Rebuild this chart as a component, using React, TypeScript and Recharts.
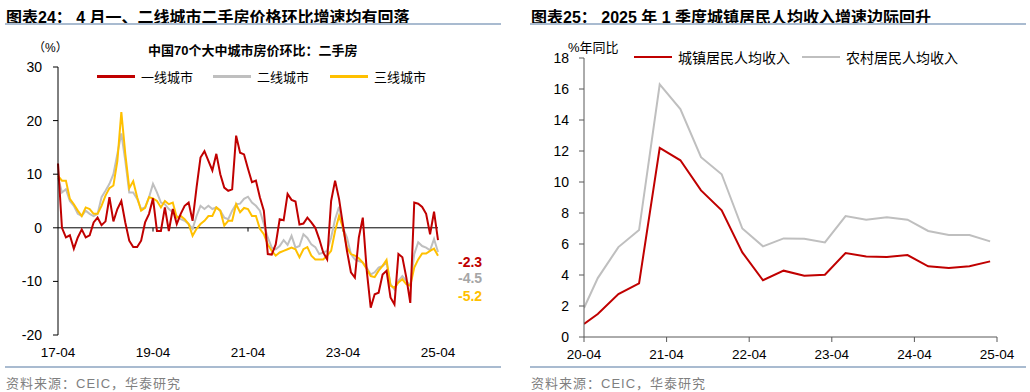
import { LabelList, Line, LineChart, ReferenceLine, XAxis, YAxis } from "recharts";

// 图表24：70城二手房价格环比（折年，%），2017-04 起逐月
const tier1 = [
  12, 0, -1.8, -1.4, -3.9, -1.8, -0.3, -1.8, -1.4, 1.0, 1.9, 0.5, 1.2, 5.7, 1.2, 3.5, 5.0, 1.0, -2.4, -3.6,
  -3.6, -2.4, 1.0, 2.6, 5.5, -0.6, -0.6, 3.8, -0.6, 3.5, 0.7, 2.6, 4.1, 4.7, 1.3, 7.5, 13.1, 14.3, 12.5, 10.7,
  13.8, 10.0, 7.5, 6.9, 7.2, 17.2, 14.0, 13.7, 11.0, 8.5, 8.8, 5.7, 3.2, -4.9, -5.0, -3.1, 1.6, 1.4, 6.3, 5.2,
  4.9, 0.6, 0.8, 1.9, 1.0, 0.0, -2.1, -4.6, -5.9, 5.0, 8.8, 5.4, 0.5, -4.3, -8.3, -9.3, -1.8, 1.9, -8.0, -14.9,
  -12.4, -12.1, -8.7, -8.0, -13.0, -14.3, -4.9, -5.5, -9.3, -14.0, 4.7, 4.5, 3.9, 2.6, -1.2, 3.0, -2.3,
];
const tier2 = [
  9.4, 6.6, 7.2, 5.0, 4.1, 2.6, 2.2, 3.2, 2.6, 2.2, 2.6, 5.7, 6.9, 8.2, 10.0, 13.8, 17.6, 12.5, 6.6, 6.6,
  5.4, 3.5, 3.8, 5.7, 8.2, 6.6, 4.7, 4.4, 3.5, 2.9, 2.2, 1.6, 1.3, 0.7, -0.2, 2.2, 4.1, 3.5, 4.1, 3.5,
  3.8, 3.2, 1.9, 1.6, 3.2, 4.4, 4.5, 5.4, 5.8, 4.7, 4.1, 3.2, 0.7, -1.8, -3.7, -4.0, -3.4, -2.3, -3.2, -1.5,
  -3.7, -3.4, -1.2, -1.9, -3.1, -3.6, -4.9, -4.6, -4.3, -1.8, 1.6, 3.9, 0, -1.8, -4.9, -5.9, -6.2, -6.5, -7.4, -8.7,
  -8.3, -7.4, -7.1, -6.5, -10.5, -11.5, -9.9, -9.0, -9.9, -10.8, -4.9, -2.7, -3.4, -3.7, -4.2, -2.1, -4.5,
];
const tier3 = [
  9.7, 8.8, 8.8, 5.4, 4.4, 3.2, 2.2, 3.8, 3.5, 2.6, 2.6, 4.1, 6.0, 7.4, 7.9, 12.5, 21.6, 13.8, 7.4, 8.7,
  5.7, 3.2, 3.7, 5.7, 5.5, 5.0, 3.8, 5.0, 4.4, 4.7, 1.9, 2.2, 1.6, 0.7, -1.5, -0.2, 0.7, 1.3, 2.2, 2.2,
  3.8, 3.2, 0.4, 1.3, 1.3, 4.4, 2.9, 3.7, 3.5, 2.2, 2.2, -0.2, -1.2, -3.1, -4.3, -5.2, -4.6, -4.3, -4.0, -3.7,
  -4.0, -5.5, -4.0, -3.6, -5.2, -5.9, -5.9, -5.9, -5.2, -4.3, -0.6, 2.2, 0.0, -3.7, -4.9, -5.2, -5.7, -6.5, -7.7, -9.0,
  -9.2, -8.0, -7.1, -6.0, -10.8, -11.2, -10.2, -9.6, -10.5, -10.8, -7.4, -5.9, -4.8, -4.8, -4.3, -3.9, -5.2,
];
const houseTickIdx = [0, 24, 48, 72, 96];
const houseTickLabels = ["17-04", "19-04", "21-04", "23-04", "25-04"];
const houseYTicks = [-20, -10, 0, 10, 20, 30];

// 图表25：城镇/农村居民人均可支配收入累计同比（%）
const incomeDates = [
  "2020-04", "2020-06", "2020-09", "2020-12", "2021-03", "2021-06", "2021-09", "2021-12",
  "2022-03", "2022-06", "2022-09", "2022-12", "2023-03", "2023-06", "2023-09", "2023-12",
  "2024-03", "2024-06", "2024-09", "2024-12", "2025-03",
];
const urbanIncome = [0.84, 1.48, 2.77, 3.46, 12.2, 11.4, 9.46, 8.17, 5.46, 3.66, 4.28, 3.95, 4.02, 5.42, 5.2, 5.16, 5.29, 4.56, 4.45, 4.56, 4.88];
const ruralIncome = [1.87, 3.8, 5.8, 6.9, 16.3, 14.7, 11.6, 10.5, 7.0, 5.85, 6.36, 6.34, 6.1, 7.8, 7.57, 7.72, 7.57, 6.84, 6.58, 6.58, 6.17];
const incomeTickDates = ["2020-04", "2021-04", "2022-04", "2023-04", "2024-04", "2025-04"];
const incomeYTicks = [0, 2, 4, 6, 8, 10, 12, 14, 16, 18];

const RED = "#C00000";
const GRAY = "#BFBFBF";
const YELLOW = "#FFC000";
const FONT = '"Liberation Sans", Arial, "Noto Sans CJK SC", sans-serif';

const monthNo = (d: string) => {
  const [y, m] = d.split("-").map(Number);
  return (y - 2020) * 12 + (m - 1);
};

const houseData = tier1.map((v, i) => ({ i, t1: v, t2: tier2[i], t3: tier3[i] }));
const incomeData = incomeDates.map((d, k) => ({ m: monthNo(d), urban: urbanIncome[k], rural: ruralIncome[k] }));
const incomeTicks = incomeTickDates.map(monthNo);

const endLabel = (color: string, dy: number) => (props: any) => {
  const { x, y, value, index } = props;
  if (index !== houseData.length - 1) return null;
  return (
    <text x={x + 20} y={y + dy} fill={color} fontSize={14} fontWeight="bold" dominantBaseline="central" fontFamily={FONT}>
      {Number(value).toFixed(1)}
    </text>
  );
};

const LegendItem = ({ color, label, left, top, size }: { color: string; label: string; left: number; top: number; size: number }) => (
  <div style={{ position: "absolute", left, top, display: "flex", alignItems: "center", fontSize: size, whiteSpace: "nowrap" }}>
    <span style={{ display: "inline-block", width: 38, height: 2.5, background: color, marginRight: 6 }} />
    <span>{label}</span>
  </div>
);

export default function App() {
  return (
    <div style={{ position: "absolute", left: 0, top: 0, width: 1030, height: 392, background: "#fff", fontFamily: FONT, color: "#000" }}>
      {/* titles */}
      <div style={{ position: "absolute", left: 6, top: 4, fontSize: 16, fontWeight: "bold", whiteSpace: "nowrap" }}>
        图表24： 4 月一、二线城市二手房价格环比增速均有回落
      </div>
      <div style={{ position: "absolute", left: 5, top: 23, width: 496, height: 2, background: "#A9BBD0" }} />
      <div style={{ position: "absolute", left: 531, top: 4, fontSize: 16, fontWeight: "bold", whiteSpace: "nowrap" }}>
        图表25： 2025 年 1 季度城镇居民人均收入增速边际回升
      </div>
      <div style={{ position: "absolute", left: 530, top: 23, width: 496, height: 2, background: "#A9BBD0" }} />

      {/* left chart */}
      <div style={{ position: "absolute", left: 0, top: 0 }}>
        <LineChart width={515} height={392} data={houseData} margin={{ top: 67, right: 77, bottom: 37, left: 18 }}>
          <XAxis
            type="number"
            dataKey="i"
            domain={[0, 96]}
            ticks={houseTickIdx}
            tickFormatter={(v: number) => houseTickLabels[houseTickIdx.indexOf(v)]}
            axisLine={false}
            tickLine={false}
            tickMargin={6}
            height={20}
            tick={{ fontSize: 13.5, fill: "#000", fontFamily: FONT }}
          />
          <YAxis
            domain={[-20, 30]}
            ticks={houseYTicks}
            width={40}
            tickSize={5}
            tickMargin={11}
            axisLine={{ stroke: "#000" }}
            tickLine={{ stroke: "#000" }}
            tick={{ fontSize: 14, fill: "#000", fontFamily: FONT }}
            interval={0}
          />
          <ReferenceLine y={0} stroke="#000" strokeWidth={1} />
          {houseTickIdx.slice(1, -1).map((t) => (
            <ReferenceLine key={t} segment={[{ x: t, y: 0 }, { x: t, y: -0.7 }]} stroke="#000" />
          ))}
          <Line type="linear" dataKey="t2" stroke={GRAY} strokeWidth={2} dot={false} isAnimationActive={false}>
            <LabelList dataKey="t2" content={endLabel("#A6A6A6", 26)} />
          </Line>
          <Line type="linear" dataKey="t3" stroke={YELLOW} strokeWidth={2} dot={false} isAnimationActive={false}>
            <LabelList dataKey="t3" content={endLabel(YELLOW, 40)} />
          </Line>
          <Line type="linear" dataKey="t1" stroke={RED} strokeWidth={2} dot={false} isAnimationActive={false}>
            <LabelList dataKey="t1" content={endLabel(RED, 22)} />
          </Line>
        </LineChart>
      </div>
      <div style={{ position: "absolute", left: 33, top: 38, fontSize: 12 }}>（%）</div>
      <div style={{ position: "absolute", left: 148, top: 40, fontSize: 13, fontWeight: "bold", whiteSpace: "nowrap" }}>
        中国70个大中城市房价环比：二手房
      </div>
      <LegendItem color={RED} label="一线城市" left={97} top={67} size={13} />
      <LegendItem color={GRAY} label="二线城市" left={213} top={67} size={13} />
      <LegendItem color={YELLOW} label="三线城市" left={330} top={67} size={13} />

      {/* right chart */}
      <div style={{ position: "absolute", left: 515, top: 0 }}>
        <LineChart width={515} height={392} data={incomeData} margin={{ top: 58, right: 33, bottom: 35, left: 29 }}>
          <XAxis
            type="number"
            dataKey="m"
            domain={[incomeTicks[0], incomeTicks[incomeTicks.length - 1]]}
            ticks={incomeTicks}
            tickFormatter={(v: number) => incomeTickDates[incomeTicks.indexOf(v)].slice(2)}
            axisLine={{ stroke: "#595959" }}
            tickLine={{ stroke: "#595959" }}
            tickSize={5}
            tickMargin={7}
            height={20}
            allowDataOverflow
            tick={{ fontSize: 13.5, fill: "#000", fontFamily: FONT }}
          />
          <YAxis
            domain={[0, 18]}
            ticks={incomeYTicks}
            width={40}
            tickSize={5}
            tickMargin={10}
            axisLine={{ stroke: "#595959" }}
            tickLine={{ stroke: "#595959" }}
            tick={{ fontSize: 14, fill: "#000", fontFamily: FONT }}
            interval={0}
          />
          <Line type="linear" dataKey="rural" stroke={GRAY} strokeWidth={2} dot={false} isAnimationActive={false} />
          <Line type="linear" dataKey="urban" stroke={RED} strokeWidth={2} dot={false} isAnimationActive={false} />
        </LineChart>
      </div>
      <div style={{ position: "absolute", left: 568, top: 37, fontSize: 13, whiteSpace: "nowrap" }}>%年同比</div>
      <LegendItem color={RED} label="城镇居民人均收入" left={634} top={47} size={14} />
      <LegendItem color={GRAY} label="农村居民人均收入" left={802} top={47} size={14} />

      {/* sources */}
      <div style={{ position: "absolute", left: 5, top: 366, width: 496, height: 2, background: "#A9BBD0" }} />
      <div style={{ position: "absolute", left: 530, top: 366, width: 496, height: 2, background: "#A9BBD0" }} />
      <div style={{ position: "absolute", left: 6, top: 373, fontSize: 13, color: "#7F7F7F", letterSpacing: 1, whiteSpace: "nowrap" }}>
        资料来源：CEIC，华泰研究
      </div>
      <div style={{ position: "absolute", left: 531, top: 373, fontSize: 13, color: "#7F7F7F", letterSpacing: 1, whiteSpace: "nowrap" }}>
        资料来源：CEIC，华泰研究
      </div>
    </div>
  );
}
